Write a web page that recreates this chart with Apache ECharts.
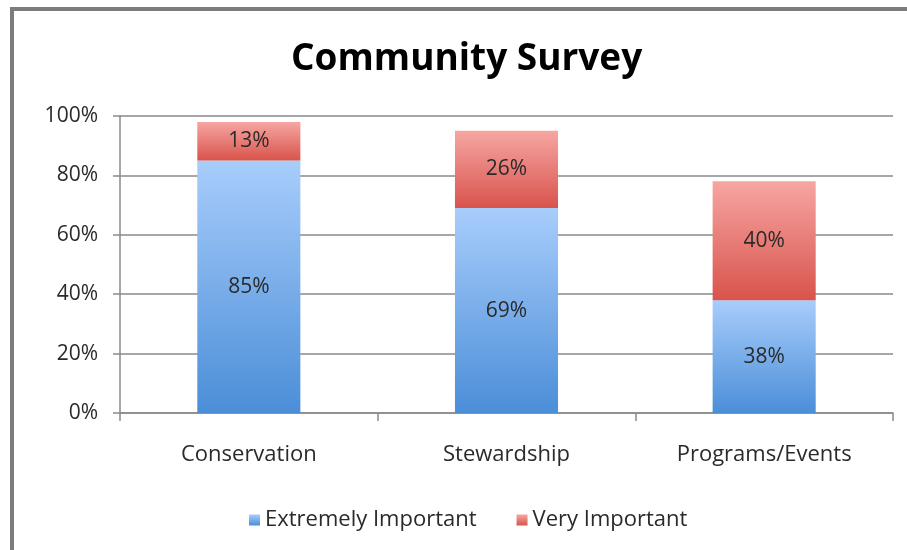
<!DOCTYPE html>
<html><head><meta charset="utf-8">
<script src="https://cdn.jsdelivr.net/npm/echarts@6/dist/echarts.min.js"></script>
<style>html,body{margin:0;padding:0;background:#fff}#c{width:907px;height:550px}</style>
</head><body><div id="c"></div>
<script>
const categories = ['Conservation', 'Stewardship', 'Programs/Events'];
const extremelyImportant = [85, 69, 38];
const veryImportant = [13, 26, 40];
const seriesNames = ['Extremely Important', 'Very Important'];
const titleText = 'Community Survey';

const FONT = 'Open Sans';
const chart = echarts.init(document.getElementById('c'));
const blueGrad = new echarts.graphic.LinearGradient(0, 0, 0, 1, [{offset: 0, color: '#a8cdfb'}, {offset: 1, color: '#4b8ed8'}]);
const redGrad = new echarts.graphic.LinearGradient(0, 0, 0, 1, [{offset: 0, color: '#f6a6a2'}, {offset: 1, color: '#d9534c'}]);
const labelStyle = {show: true, position: 'inside', formatter: p => p.value + '%', color: '#2a2a2a', fontSize: 21, fontFamily: FONT};
chart.setOption({
  animation: false,
  backgroundColor: '#fff',
  title: {text: titleText, left: 286, top: 36, textStyle: {fontFamily: FONT, fontWeight: 'bold', fontSize: 37, color: '#000'}},
  graphic: [{type: 'polyline', shape: {points: [[12, 560], [12, 9], [920, 9]]}, style: {stroke: '#7c7c7c', lineWidth: 4, fill: null}, z: 100}],
  legend: {bottom: 14, left: 244, itemWidth: 11, itemHeight: 11, itemGap: 40, icon: 'rect',
    textStyle: {fontFamily: FONT, fontSize: 22, color: '#2a2a2a'}, data: seriesNames},
  grid: {left: 120, right: 14, top: 116, bottom: 137},
  xAxis: {type: 'category', data: categories,
    axisLine: {lineStyle: {color: '#8a8a8a', width: 1.5}},
    axisTick: {show: true, length: 8, lineStyle: {color: '#8a8a8a', width: 1.5}},
    axisLabel: {fontFamily: FONT, fontSize: 22, color: '#2a2a2a', margin: 31}},
  yAxis: {type: 'value', min: 0, max: 100, interval: 20,
    axisLine: {show: true, lineStyle: {color: '#8a8a8a', width: 1.5}},
    axisTick: {show: true, length: 7, lineStyle: {color: '#8a8a8a', width: 1.5}},
    splitLine: {lineStyle: {color: '#8a8a8a', width: 1.5}},
    axisLabel: {formatter: '{value}%', fontFamily: FONT, fontSize: 21, color: '#2a2a2a', margin: 22}},
  series: [
    {name: seriesNames[0], type: 'bar', stack: 's', data: extremelyImportant, barWidth: '40%', itemStyle: {color: blueGrad}, label: labelStyle},
    {name: seriesNames[1], type: 'bar', stack: 's', data: veryImportant, barWidth: '40%', itemStyle: {color: redGrad}, label: labelStyle}
  ]
});
</script></body></html>
